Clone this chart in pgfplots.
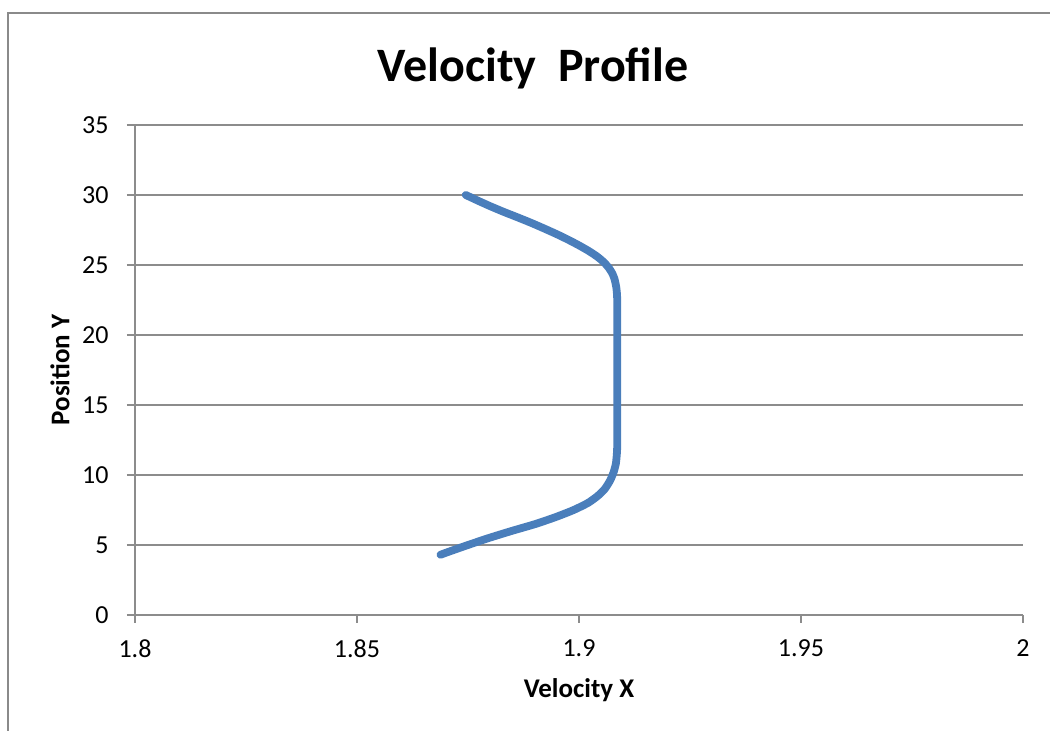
\documentclass[border=0pt]{standalone}
\usepackage{pgfplots}
\pgfplotsset{compat=1.18}
\usepackage{fontspec}
\setmainfont{Carlito}
\definecolor{lineblue}{HTML}{4A7EBB}
\definecolor{gridgray}{HTML}{8C8C8C}
\definecolor{framegray}{HTML}{8A8A8A}

\pgfplotstableread{
vx      py
1.8745  30.0
1.8772  29.6
1.8800  29.2
1.8830  28.8
1.8862  28.4
1.8893  28.0
1.8922  27.6
1.8950  27.2
1.8976  26.8
1.9000  26.4
1.9022  26.0
1.9041  25.6
1.9056  25.2
1.9067  24.8
1.9075  24.4
1.9080  24.0
1.9084  23.4
1.9086  22.6
1.9086  20.0
1.9086  17.0
1.9086  14.0
1.9086  12.0
1.9085  11.4
1.9083  10.8
1.9078  10.2
1.9070  9.6
1.9058  9.0
1.9042  8.5
1.9020  8.0
1.8988  7.5
1.8948  7.0
1.8902  6.5
1.8848  6.0
1.8797  5.5
1.8750  5.0
1.8705  4.5
1.8688  4.3
}\profile

\begin{document}
\begin{tikzpicture}
% page extent of the chart
\useasboundingbox (-67.5pt,-58pt) rectangle (457.5pt,307.5pt);
% chart area frame
\draw[framegray, line width=0.8pt] (-63.5pt,-58pt) -- (-63.5pt,301pt) -- (457.5pt,301pt);
\begin{axis}[
  at={(0,0)}, anchor=south west,
  scale only axis,
  width=444pt, height=245pt,
  xmin=1.8, xmax=2, ymin=0, ymax=35,
  xtick={1.8,1.85,1.9,1.95,2},
  xticklabels={1.8,1.85,1.9,1.95,2},
  ytick={0,5,10,15,20,25,30,35},
  axis x line*=bottom, axis y line*=left,
  axis line style={gridgray, line width=0.9pt, -},
  tick style={gridgray, line width=0.9pt},
  tick align=outside,
  major tick length=4pt,
  ymajorgrids,
  grid style={gridgray, line width=0.9pt},
  /pgf/number format/assume math mode=true,
  ticklabel style={font=\fontsize{13}{15}\selectfont},
  yticklabel style={anchor=east, inner sep=0pt, xshift=-9pt},
  xticklabel style={anchor=north, inner sep=0pt, yshift=-8pt},
  title={Velocity\ \ Profile},
  title style={at={(axis description cs:0.4482,1.0633)}, anchor=base,
    font=\fontsize{24}{28}\selectfont\bfseries},
  xlabel={Velocity X},
  xlabel style={at={(axis description cs:0.5,-0.153)}, anchor=center,
    font=\fontsize{13.5}{16}\selectfont\bfseries},
  ylabel={Position Y},
  ylabel style={at={(axis description cs:-0.0845,0.5)}, anchor=center,
    font=\fontsize{13.5}{16}\selectfont\bfseries},
]
\addplot[lineblue, line width=3.9pt, line cap=round, line join=round, smooth, tension=0.35]
  table[x=vx, y=py] {\profile};
\end{axis}
\end{tikzpicture}
\end{document}
